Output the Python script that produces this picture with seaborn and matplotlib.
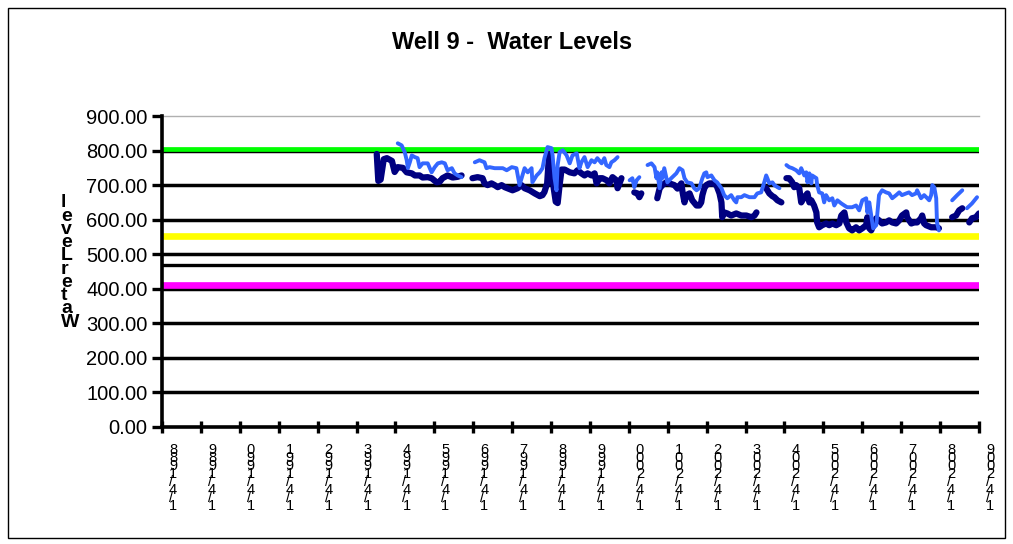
import numpy as np
import pandas as pd
import matplotlib
matplotlib.use("Agg")
import matplotlib.pyplot as plt
import matplotlib.transforms as mtransforms
from matplotlib.patches import Rectangle
import seaborn as sns

nan = np.nan

# Well 9 water level record (decimal year, level); NaN marks a break in the record
navy_year = [
    1993.52, 1993.56, 1993.62, 1993.70, 1993.78, 1993.91, 1993.98, 1994.06, 1994.19, 1994.29,
    1994.42, 1994.50, 1994.62, 1994.70, 1994.83, 1994.93, 1995.06, 1995.14, 1995.21, 1995.34,
    1995.47, 1995.60, 1995.70,
    nan,
    1995.98, 1996.11, 1996.24, 1996.29, 1996.37, 1996.47, 1996.55, 1996.63, 1996.73, 1996.81,
    1997.01, 1997.14, 1997.24, 1997.32, 1997.45, 1997.58, 1997.71, 1997.78, 1997.83, 1997.90,
    1997.95, 1998.01, 1998.07, 1998.12, 1998.17, 1998.22, 1998.27, 1998.35, 1998.48, 1998.60,
    1998.68, 1998.78, 1998.86, 1998.94, 1999.04, 1999.12, 1999.17, 1999.25, 1999.32, 1999.43,
    1999.50, 1999.58, 1999.68, 1999.71, 1999.76, 1999.81,
    nan,
    2000.14, 2000.22, 2000.27, 2000.32,
    nan,
    2000.73, 2000.79, 2000.86, 2000.96, 2001.04, 2001.17, 2001.25, 2001.35, 2001.38, 2001.43,
    2001.48, 2001.56, 2001.63, 2001.74, 2001.81, 2001.86, 2001.89, 2001.94, 2001.99, 2002.07,
    2002.15, 2002.25, 2002.33, 2002.38, 2002.40, 2002.45, 2002.53, 2002.63, 2002.76, 2002.89,
    2003.02, 2003.15, 2003.23, 2003.28,
    nan,
    2003.53, 2003.61, 2003.69, 2003.74, 2003.82, 2003.92,
    nan,
    2004.05, 2004.12, 2004.20, 2004.25, 2004.30, 2004.38, 2004.43, 2004.51, 2004.59, 2004.64,
    2004.69, 2004.76, 2004.82, 2004.84, 2004.89, 2004.97, 2005.07, 2005.15, 2005.23, 2005.33,
    2005.41, 2005.46, 2005.54, 2005.59, 2005.66, 2005.74, 2005.84, 2005.92, 2006.00, 2006.10,
    2006.13, 2006.18, 2006.23, 2006.36, 2006.43, 2006.51, 2006.61, 2006.69, 2006.77, 2006.87,
    2006.95, 2007.02, 2007.13, 2007.15, 2007.26, 2007.33, 2007.41, 2007.51, 2007.54, 2007.59,
    2007.64, 2007.77, 2007.92, 2007.97,
    nan,
    2008.31, 2008.41, 2008.49, 2008.57,
    nan,
    2008.75, 2008.82, 2008.92, 2009.00,
]
navy_level = [
    790, 712, 716, 775, 778, 770, 738, 752, 750, 737,
    734, 728, 728, 722, 723, 720, 708, 710, 720, 728,
    722, 724, 728,
    nan,
    720, 723, 720, 705, 700, 705, 700, 694, 700, 694,
    685, 691, 700, 691, 685, 676, 668, 671, 680, 705,
    790, 760, 690, 652, 648, 700, 745, 745, 737, 734,
    743, 734, 728, 734, 728, 734, 705, 720, 720, 714,
    705, 723, 714, 691, 705, 720,
    nan,
    679, 676, 665, 676,
    nan,
    662, 690, 700, 708, 705, 700, 690, 705, 680, 650,
    671, 676, 656, 641, 641, 650, 671, 691, 700, 705,
    705, 700, 676, 650, 607, 621, 618, 612, 618, 612,
    612, 607, 612, 621,
    nan,
    691, 676, 668, 665, 656, 650,
    nan,
    720, 720, 708, 694, 700, 691, 650, 665, 676, 650,
    656, 641, 621, 592, 578, 584, 589, 584, 589, 584,
    589, 612, 621, 592, 575, 569, 578, 569, 575, 584,
    607, 575, 569, 604, 598, 589, 592, 598, 592, 589,
    598, 612, 621, 607, 589, 592, 592, 604, 612, 589,
    584, 578, 578, 575,
    nan,
    607, 612, 627, 633,
    nan,
    592, 604, 607, 618,
]

blue_year = [
    1994.06, 1994.16, 1994.24, 1994.29, 1994.32, 1994.37, 1994.42, 1994.50, 1994.57, 1994.62,
    1994.70, 1994.83, 1994.93, 1995.01, 1995.09, 1995.19, 1995.27, 1995.34, 1995.45, 1995.52,
    1995.60, 1995.70,
    nan,
    1996.04, 1996.16, 1996.29, 1996.34, 1996.42, 1996.55, 1996.68, 1996.76, 1996.86, 1996.99,
    1997.11, 1997.19, 1997.32, 1997.40, 1997.50, 1997.52, 1997.63, 1997.71, 1997.78, 1997.83,
    1997.91, 1998.01, 1998.04, 1998.09, 1998.14, 1998.17, 1998.22, 1998.30, 1998.40, 1998.48,
    1998.55, 1998.66, 1998.73, 1998.78, 1998.86, 1998.94, 1999.04, 1999.12, 1999.19, 1999.30,
    1999.37, 1999.42, 1999.50, 1999.55, 1999.63, 1999.71,
    nan,
    2000.02, 2000.09, 2000.14, 2000.20, 2000.27,
    nan,
    2000.48, 2000.58, 2000.66, 2000.71, 2000.73, 2000.79, 2000.84, 2000.86, 2000.91, 2000.99,
    2001.09, 2001.22, 2001.30, 2001.38, 2001.43, 2001.50, 2001.61, 2001.68, 2001.74, 2001.81,
    2001.89, 2001.94, 2001.99, 2002.02, 2002.12, 2002.20, 2002.27, 2002.38, 2002.45, 2002.53,
    2002.63, 2002.71, 2002.76, 2002.79, 2002.89, 2002.97, 2003.10, 2003.23, 2003.30, 2003.40,
    2003.48, 2003.53, 2003.56, 2003.61, 2003.69, 2003.74, 2003.82, 2003.87,
    nan,
    2004.05, 2004.12, 2004.20, 2004.30, 2004.38, 2004.43, 2004.51, 2004.56, 2004.59, 2004.64,
    2004.69, 2004.71, 2004.82, 2004.84, 2004.89, 2004.97, 2005.02, 2005.07, 2005.15, 2005.23,
    2005.28, 2005.36, 2005.46, 2005.54, 2005.61, 2005.74, 2005.84, 2005.92, 2006.00, 2006.10,
    2006.13, 2006.18, 2006.23, 2006.28, 2006.36, 2006.43, 2006.51, 2006.61, 2006.69, 2006.77,
    2006.87, 2006.95, 2007.02, 2007.13, 2007.20, 2007.28, 2007.38, 2007.41, 2007.51, 2007.59,
    2007.67, 2007.72, 2007.77, 2007.80, 2007.85, 2007.90, 2007.92, 2007.97,
    nan,
    2008.31, 2008.44, 2008.57,
    nan,
    2008.69, 2008.82, 2008.95,
]
blue_level = [
    821, 815, 795, 772, 749, 766, 786, 781, 778, 752,
    763, 763, 737, 752, 763, 766, 763, 743, 749, 734,
    728, 723,
    nan,
    766, 772, 766, 749, 752, 749, 749, 749, 743, 752,
    749, 700, 749, 737, 749, 708, 728, 737, 749, 778,
    810, 807, 786, 720, 685, 758, 795, 801, 786, 763,
    786, 792, 749, 766, 781, 752, 772, 766, 778, 763,
    778, 758, 752, 766, 772, 781,
    nan,
    714, 720, 694, 714, 723,
    nan,
    758, 763, 752, 720, 737, 691, 737, 720, 749, 708,
    720, 734, 749, 743, 720, 708, 705, 691, 685, 691,
    720, 734, 737, 723, 728, 714, 708, 691, 671, 662,
    671, 656, 650, 665, 665, 671, 665, 665, 676, 679,
    708, 728, 720, 705, 708, 700, 694, 691,
    nan,
    758, 752, 749, 743, 734, 749, 728, 737, 708, 734,
    705, 728, 720, 700, 679, 676, 650, 671, 656, 662,
    641, 656, 647, 641, 636, 636, 641, 627, 656, 662,
    621, 650, 612, 575, 584, 671, 685, 679, 676, 662,
    671, 679, 671, 676, 679, 671, 676, 685, 662, 671,
    662, 656, 671, 700, 694, 662, 592, 569,
    nan,
    656, 671, 685,
    nan,
    633, 647, 665,
]

# Reference levels and gridlines
ref_levels = [805, 552, 468, 410]
ref_colors = ["#00FF00", "#FFFF00", "#000000", "#FF00FF"]
ref_widths = [3.4, 4.8, 2.4, 4.8]
grid_levels = [100, 200, 300, 400, 500, 600, 700, 800]

tick_years = list(range(1988, 2010))
tick_labels = [f"1/4/{y}" for y in tick_years]
y_ticks = list(range(0, 901, 100))

title = "Well 9 -  Water Levels"
y_title = "Water Level"


def segments(years, levels):
    df = pd.DataFrame({"year": years, "level": levels})
    df["seg"] = df["year"].isna().cumsum()
    return df.dropna()


def stacked(text):
    # characters stacked top-to-bottom, last character first
    return "\n".join(c for c in reversed(text) if c != " ")


sns.set_theme(style="white")
plt.rcParams["font.family"] = ["Liberation Sans", "DejaVu Sans"]

W, H, DPI = 1013, 544, 100
fig = plt.figure(figsize=(W / DPI, H / DPI), dpi=DPI)
fig.patch.set_facecolor("white")
left, right, top, bottom = 162, 979, 116, 427
ax = fig.add_axes([left / W, 1 - bottom / H, (right - left) / W, (bottom - top) / H])
ax.set_facecolor("white")

for g in grid_levels:
    ax.axhline(g, color="black", lw=2.5, zorder=1)
for lvl, col, lw in zip(ref_levels, ref_colors, ref_widths):
    ax.axhline(lvl, color=col, lw=lw, zorder=2, solid_capstyle="round")

line_kw = dict(units="seg", estimator=None, sort=False, legend=False, ax=ax,
               solid_joinstyle="round", solid_capstyle="round")
sns.lineplot(data=segments(navy_year, navy_level), x="year", y="level",
             color="#000080", lw=4.5, zorder=3, **line_kw)
sns.lineplot(data=segments(blue_year, blue_level), x="year", y="level",
             color="#3366FF", lw=2.8, zorder=4, **line_kw)

ax.set_xlim(1988, 2009)
ax.set_ylim(0, 900)
ax.set_xlabel("")
ax.set_ylabel("")

ax.spines["right"].set_visible(False)
ax.spines["top"].set_color("#b0b0b0")
ax.spines["top"].set_linewidth(1.0)
for side in ["left", "bottom"]:
    ax.spines[side].set_color("black")
    ax.spines[side].set_linewidth(2.6)
    ax.spines[side].set_zorder(5)

ax.set_yticks(y_ticks)
ax.set_yticklabels([f"{v:.2f}" for v in y_ticks])
ax.tick_params(axis="y", direction="out", length=7, width=2.4, pad=3.5,
               labelsize=14.5, colors="black", left=True)
ax.set_xticks(tick_years)
ax.set_xticklabels([stacked(t) for t in tick_labels])
ax.tick_params(axis="x", direction="inout", length=9, width=2.4, pad=7.0,
               labelsize=10.5, colors="black", bottom=True)

offset = mtransforms.ScaledTranslation(7 / DPI, 0, fig.dpi_scale_trans)
for lab in ax.get_xticklabels():
    lab.set_transform(lab.get_transform() + offset)
    lab.set_horizontalalignment("left")
    lab.set_multialignment("left")
    lab.set_linespacing(0.45)

fig.text(512 / W, 1 - 42.5 / H, title, ha="center", va="center",
         fontsize=17, fontweight="bold", color="black")
fig.text(61 / W, 1 - 262.5 / H, stacked(y_title), ha="left", va="center",
         fontsize=14, fontweight="bold", linespacing=0.71, multialignment="left",
         color="black")

fig.add_artist(Rectangle((8 / W, 6 / H), (1005 - 8) / W, (538 - 8) / H,
                         transform=fig.transFigure, fill=False,
                         edgecolor="black", lw=1.0))

fig.savefig("out.png", dpi=DPI, facecolor="white")
